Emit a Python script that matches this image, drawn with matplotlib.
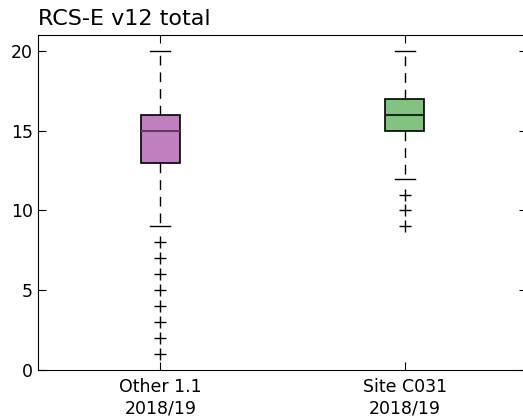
import matplotlib
matplotlib.use("Agg")
import matplotlib.pyplot as plt

# valores
labels = ["Other 1.1\n2018/19", "Site C031\n2018/19"]
q1 = [13, 15]
med = [15, 16]
q3 = [16, 17]
whislo = [9, 12]
whishi = [20, 20]
fliers = [[1, 2, 3, 4, 5, 6, 7, 8], [9, 10, 11]]
cores = ["#c080c0", "#80c480"]
cores_med = ["#603a60", "#1a2a1a"]

stats = []
for i in range(len(labels)):
    stats.append({"label": labels[i], "q1": q1[i], "med": med[i], "q3": q3[i],
                  "whislo": whislo[i], "whishi": whishi[i], "fliers": fliers[i]})

fig = plt.figure(figsize=(5.23, 4.19), dpi=100)
ax = fig.add_axes([38 / 523, 1 - 370 / 419, 489 / 523, 335 / 419])

bp = ax.bxp(stats, widths=0.16, patch_artist=True,
            flierprops=dict(marker="+", markersize=8, markeredgecolor="black", markeredgewidth=1),
            whiskerprops=dict(linestyle=(0, (7, 5)), color="black", linewidth=1),
            capprops=dict(color="black", linewidth=1),
            medianprops=dict(linewidth=1.5))
for patch, c in zip(bp["boxes"], cores):
    patch.set_facecolor(c)
    patch.set_edgecolor("black")
    patch.set_linewidth(1.2)
for m, c in zip(bp["medians"], cores_med):
    m.set_color(c)

ax.set_xlim(0.5, 2.5)
ax.set_ylim(0, 21)
ax.set_yticks([0, 5, 10, 15, 20])
ax.tick_params(direction="in", length=6, labelsize=12.5, top=True, right=True)
ax.tick_params(axis="x", pad=6)
ax.set_title("RCS-E v12 total", loc="left", fontsize=16, pad=7)

fig.savefig("out.png", dpi=100)
